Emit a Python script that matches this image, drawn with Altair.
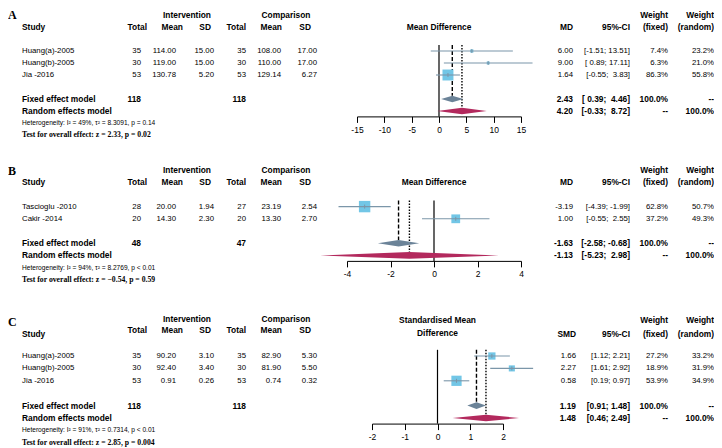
import altair as alt
import pandas as pd

# ---------------- data ----------------
# Panel A
a_study = ["Huang(a)-2005", "Huang(b)-2005", "Jia -2016"]
a_n1 = [35, 30, 53]
a_m1 = [114.00, 119.00, 130.78]
a_sd1 = [15.00, 15.00, 5.20]
a_n2 = [35, 30, 53]
a_m2 = [108.00, 110.00, 129.14]
a_sd2 = [17.00, 17.00, 6.27]
a_est = [6.00, 9.00, 1.64]
a_lo = [-1.51, 0.89, -0.55]
a_hi = [13.51, 17.11, 3.83]
a_wf = [7.4, 6.3, 86.3]
a_wr = [23.2, 21.0, 55.8]
a_fixed = [2.43, 0.39, 4.46]
a_random = [4.20, -0.33, 8.72]
a_tot = [118, 118]
a_het = "Heterogeneity: I² = 49%, τ² = 8.3091, p = 0.14"
a_test = "Test for overall effect: z = 2.33, p = 0.02"
a_ticks = [-15, -10, -5, 0, 5, 10, 15]

# Panel B
b_study = ["Tascioglu -2010", "Cakir -2014"]
b_n1 = [28, 20]
b_m1 = [20.00, 14.30]
b_sd1 = [1.94, 2.30]
b_n2 = [27, 20]
b_m2 = [23.19, 13.30]
b_sd2 = [2.54, 2.70]
b_est = [-3.19, 1.00]
b_lo = [-4.39, -0.55]
b_hi = [-1.99, 2.55]
b_wf = [62.8, 37.2]
b_wr = [50.7, 49.3]
b_fixed = [-1.63, -2.58, -0.68]
b_random = [-1.13, -5.23, 2.98]
b_tot = [48, 47]
b_het = "Heterogeneity: I² = 94%, τ² = 8.2769, p < 0.01"
b_test = "Test for overall effect: z = −0.54, p = 0.59"
b_ticks = [-4, -2, 0, 2, 4]

# Panel C
c_study = ["Huang(a)-2005", "Huang(b)-2005", "Jia -2016"]
c_n1 = [35, 30, 53]
c_m1 = [90.20, 92.40, 0.91]
c_sd1 = [3.10, 3.40, 0.26]
c_n2 = [35, 30, 53]
c_m2 = [82.90, 81.90, 0.74]
c_sd2 = [5.30, 5.50, 0.32]
c_est = [1.66, 2.27, 0.58]
c_lo = [1.12, 1.61, 0.19]
c_hi = [2.21, 2.92, 0.97]
c_wf = [27.2, 18.9, 53.9]
c_wr = [33.2, 31.9, 34.9]
c_fixed = [1.19, 0.91, 1.48]
c_random = [1.48, 0.46, 2.49]
c_tot = [118, 118]
c_het = "Heterogeneity: I² = 91%, τ² = 0.7314, p < 0.01"
c_test = "Test for overall effect: z = 2.85, p = 0.004"
c_ticks = [-2, -1, 0, 1, 2]

# ---------------- styling / layout ----------------
SANS = "Liberation Sans, Arial, Helvetica, sans-serif"
SERIF = "Liberation Serif, Times New Roman, serif"
W = 706
SQ_COL = "#72C6E6"
CI_COL = "#7B96A9"
FIX_COL = "#6B8398"
RAN_COL = "#B3295D"
NB = "\u00a0"

STYLES = {
    "l": dict(align="left", fontWeight="normal", font=SANS, fontSize=7.8),
    "r": dict(align="right", fontWeight="normal", font=SANS, fontSize=7.8),
    "lb": dict(align="left", fontWeight="bold", font=SANS, fontSize=8.4),
    "rb": dict(align="right", fontWeight="bold", font=SANS, fontSize=8.4),
    "cb": dict(align="center", fontWeight="bold", font=SANS, fontSize=8.4),
    "het": dict(align="left", fontWeight="normal", font=SANS, fontSize=6.6),
    "test": dict(align="left", fontWeight="bold", font=SERIF, fontSize=7.7),
    "pan": dict(align="left", fontWeight="bold", font=SERIF, fontSize=12),
}

COL = dict(study=14, tot1_h=139, tot1_v=133, mean1_h=175, mean1_v=168,
           sd1_h=203, sd1_v=206, tot2=238, mean2_h=274, mean2_v=273,
           sd2_h=303, sd2_v=309, interv=179, comp=278,
           ci=622, wf=660, wr=706)


def fmt_ci(lo, hi, wl, wh):
    s_lo = f"{lo:.2f}".rjust(wl)
    s_hi = f"{hi:.2f}".rjust(wh)
    return ("[" + s_lo + "; " + s_hi + "]").replace(" ", NB)


def panel(P):
    H, top, step = P["H"], P["top"], P["step"]
    yscale = alt.Scale(domain=[-top / step, (H - top) / step], range=[0, H],
                       nice=False, zero=False)
    n = len(P["study"])
    srows = [3 + i for i in range(n)]
    rf = 3 + n + 1
    rr = rf + 1
    rh = rr + 1
    rt = rh + 1
    axis_row = rr + 0.45
    axis_off = (top + step * axis_row) - H

    all_lo = P["lo"] + [P["fixed"][1], P["random"][1]]
    all_hi = P["hi"] + [P["fixed"][2], P["random"][2]]
    wl = max(len(f"{v:.2f}") for v in all_lo)
    wh = max(len(f"{v:.2f}") for v in all_hi)

    T = []

    def add(r, x, t, g):
        T.append({"row": r, "px": x, "text": t, "g": g})

    h0, h1, hT = P["hrows"]
    add(P["letter_row"], 0, P["letter"], "pan")
    add(h0, COL["interv"], "Intervention", "cb")
    add(h0, COL["comp"], "Comparison", "cb")
    add(h1, COL["study"], "Study", "lb")
    add(hT, COL["tot1_h"], "Total", "rb")
    add(hT, COL["mean1_h"], "Mean", "rb")
    add(hT, COL["sd1_h"], "SD", "rb")
    add(hT, COL["tot2"], "Total", "rb")
    add(hT, COL["mean2_h"], "Mean", "rb")
    add(hT, COL["sd2_h"], "SD", "rb")
    add(h1, P["md_x"], P["md_label"], "rb")
    add(h1, COL["ci"], "95%-CI", "rb")
    add(P["w_row"], COL["wf"], "Weight", "rb")
    add(h1, COL["wf"], "(fixed)", "rb")
    add(P["w_row"], COL["wr"], "Weight", "rb")
    add(h1, COL["wr"], "(random)", "rb")
    xr = P["xrange"]
    for (r, t) in P["ftitle"]:
        add(r, (xr[0] + xr[1]) / 2, t, "cb")

    for i, r in enumerate(srows):
        add(r, COL["study"], P["study"][i], "l")
        add(r, COL["tot1_v"], str(P["n1"][i]), "r")
        add(r, COL["mean1_v"], f"{P['m1'][i]:.2f}", "r")
        add(r, COL["sd1_v"], f"{P['sd1'][i]:.2f}", "r")
        add(r, COL["tot2"], str(P["n2"][i]), "r")
        add(r, COL["mean2_v"], f"{P['m2'][i]:.2f}", "r")
        add(r, COL["sd2_v"], f"{P['sd2'][i]:.2f}", "r")
        add(r, P["md_x"], f"{P['est'][i]:.2f}", "r")
        add(r, COL["ci"], fmt_ci(P["lo"][i], P["hi"][i], wl, wh), "r")
        add(r, COL["wf"], f"{P['wf'][i]:.1f}%", "r")
        add(r, COL["wr"], f"{P['wr'][i]:.1f}%", "r")

    add(rf, COL["study"], "Fixed effect model", "lb")
    add(rf, COL["tot1_v"], str(P["tot"][0]), "rb")
    add(rf, COL["tot2"], str(P["tot"][1]), "rb")
    add(rf, P["md_x"], f"{P['fixed'][0]:.2f}", "rb")
    add(rf, COL["ci"], fmt_ci(P["fixed"][1], P["fixed"][2], wl, wh), "rb")
    add(rf, COL["wf"], "100.0%", "rb")
    add(rf, COL["wr"], "--", "rb")
    add(rr, COL["study"], "Random effects model", "lb")
    add(rr, P["md_x"], f"{P['random'][0]:.2f}", "rb")
    add(rr, COL["ci"], fmt_ci(P["random"][1], P["random"][2], wl, wh), "rb")
    add(rr, COL["wf"], "--", "rb")
    add(rr, COL["wr"], "100.0%", "rb")
    add(rh, COL["study"], P["het"], "het")
    add(rt, COL["study"], P["test"], "test")

    tdf = pd.DataFrame(T)
    layers = []
    for g, st in STYLES.items():
        layers.append(
            alt.Chart(tdf).transform_filter(alt.datum.g == g)
            .mark_text(color="black", baseline="middle", **st)
            .encode(x=alt.X("px:Q", scale=None, axis=None),
                    y=alt.Y("row:Q", scale=yscale, axis=None),
                    text="text:N")
        )

    # ---- forest part ----
    xs = alt.Scale(domain=[P["ticks"][0], P["ticks"][-1]], range=xr,
                   nice=False, zero=False)
    ax = alt.Axis(values=P["ticks"], title=None, grid=False, domainColor="black",
                  tickColor="black", labelColor="black", tickSize=6,
                  labelFontSize=8.5, labelFont=SANS, labelPadding=3,
                  offset=axis_off, domainWidth=1, tickWidth=1, labelFlush=False,
                  labelOverlap=False, labelExpr="toString(datum.value)")

    sdf = pd.DataFrame({"row": srows, "est": P["est"], "lo": P["lo"],
                        "hi": P["hi"], "wf": P["wf"]})
    top_row = srows[0] - 0.5
    refdf = pd.DataFrame({
        "kind": ["zero", "fixed", "random"],
        "x": [0.0, P["fixed"][0], P["random"][0]],
        "y1": [top_row, top_row, top_row],
        "y2": [axis_row, rf - 0.27, rr - 0.27],
    })
    hd = 0.27
    ddf = pd.DataFrame({
        "model": ["fixed"] * 3 + ["random"] * 3,
        "x": [P["fixed"][1], P["fixed"][0], P["fixed"][2],
              P["random"][1], P["random"][0], P["random"][2]],
        "ylo": [rf, rf - hd, rf, rr, rr - hd, rr],
        "yhi": [rf, rf + hd, rf, rr, rr + hd, rr],
    })

    X = lambda f: alt.X(f, scale=xs, axis=ax)
    Y = lambda f: alt.Y(f, scale=yscale, axis=None)

    zero = alt.Chart(refdf).transform_filter(alt.datum.kind == "zero").mark_rule(
        color="black", strokeWidth=1.2).encode(x=X("x:Q"), y=Y("y1:Q"), y2="y2:Q")
    fixl = alt.Chart(refdf).transform_filter(alt.datum.kind == "fixed").mark_rule(
        color="black", strokeWidth=1.4, strokeDash=[4, 2]).encode(
        x=X("x:Q"), y=Y("y1:Q"), y2="y2:Q")
    ranl = alt.Chart(refdf).transform_filter(alt.datum.kind == "random").mark_rule(
        color="black", strokeWidth=1.4, strokeDash=[1.4, 1.6]).encode(
        x=X("x:Q"), y=Y("y1:Q"), y2="y2:Q")
    squares = alt.Chart(sdf).mark_square(color=SQ_COL, opacity=1).encode(
        x=X("est:Q"), y=Y("row:Q"),
        size=alt.Size("wf:Q", scale=alt.Scale(domain=[0, max(P["wf"])],
                                              range=[0, P["sqmax"]]), legend=None))
    ci = alt.Chart(sdf).mark_rule(color=CI_COL, strokeWidth=1.1).encode(
        x=X("lo:Q"), x2="hi:Q", y=Y("row:Q"))
    tick = alt.Chart(sdf).mark_rule(color=CI_COL, strokeWidth=1, yOffset=-2,
                                    y2Offset=2).encode(x=X("est:Q"), y=Y("row:Q"),
                                                       y2="row:Q")
    dfix = alt.Chart(ddf).transform_filter(alt.datum.model == "fixed").mark_area(
        color=FIX_COL, opacity=1).encode(x=X("x:Q"), y=Y("ylo:Q"), y2="yhi:Q")
    dran = alt.Chart(ddf).transform_filter(alt.datum.model == "random").mark_area(
        color=RAN_COL, opacity=1).encode(x=X("x:Q"), y=Y("ylo:Q"), y2="yhi:Q")

    forest = [zero, fixl, ranl, squares, ci, tick, dfix, dran]
    return alt.layer(*forest, *layers).properties(width=W, height=H)


PA = dict(H=142, top=4, step=12.0, letter="A", letter_row=0.0,
          hrows=(0, 1, 1), w_row=0, md_x=565, md_label="MD",
          ftitle=[(1, "Mean Difference")], xrange=[349, 513], sqmax=120,
          study=a_study, n1=a_n1, m1=a_m1, sd1=a_sd1, n2=a_n2, m2=a_m2, sd2=a_sd2,
          est=a_est, lo=a_lo, hi=a_hi, wf=a_wf, wr=a_wr, fixed=a_fixed,
          random=a_random, tot=a_tot, het=a_het, test=a_test, ticks=a_ticks)
PB = dict(H=146, top=17, step=12.2, letter="B", letter_row=0.08,
          hrows=(0, 1, 1), w_row=0, md_x=565, md_label="MD",
          ftitle=[(1, "Mean Difference")], xrange=[339, 513], sqmax=130,
          study=b_study, n1=b_n1, m1=b_m1, sd1=b_sd1, n2=b_n2, m2=b_m2, sd2=b_sd2,
          est=b_est, lo=b_lo, hi=b_hi, wf=b_wf, wr=b_wr, fixed=b_fixed,
          random=b_random, tot=b_tot, het=b_het, test=b_test, ticks=b_ticks)
PC = dict(H=152, top=19.8, step=12.4, letter="C", letter_row=0.26,
          hrows=(0, 1.23, 0.9), w_row=0.1, md_x=568, md_label="SMD",
          ftitle=[(0.1, "Standardised Mean"), (1.15, "Difference")],
          xrange=[364, 495], sqmax=105,
          study=c_study, n1=c_n1, m1=c_m1, sd1=c_sd1, n2=c_n2, m2=c_m2, sd2=c_sd2,
          est=c_est, lo=c_lo, hi=c_hi, wf=c_wf, wr=c_wr, fixed=c_fixed,
          random=c_random, tot=c_tot, het=c_het, test=c_test, ticks=c_ticks)

chart = alt.vconcat(panel(PA), panel(PB), panel(PC), spacing=0).resolve_scale(
    x="independent", y="independent", size="independent"
).properties(padding=0).configure_view(stroke=None)

chart.save("out.html", embed_options={"renderer": "svg", "actions": False})
